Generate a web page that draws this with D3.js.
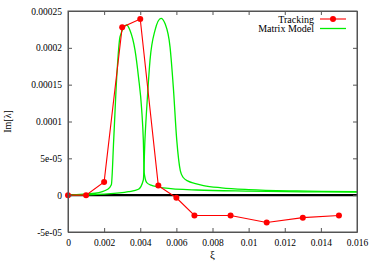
<!DOCTYPE html>
<html>
<head>
<meta charset="utf-8">
<script src="https://cdn.jsdelivr.net/npm/d3@7"></script>
<style>
  body { margin: 0; background: #fff; }
  svg { display: block; }
  text { font-family: "Liberation Serif", "DejaVu Serif", serif; fill: #000; }
</style>
</head>
<body>
<svg width="374" height="262"></svg>
<script>
const svg = d3.select("svg");

// data
const trackXi = [0, 0.001, 0.002, 0.003, 0.004, 0.005, 0.006, 0.007, 0.009, 0.011, 0.013, 0.015];
const trackIm = [0, 0, 1.8e-5, 2.28e-4, 2.39e-4, 1.3e-5, -3.5e-6, -2.75e-5, -2.75e-5, -3.7e-5, -3.05e-5, -2.75e-5];

const modelAXi = [0, 0.0015, 0.0022, 0.0024, 0.00253, 0.0027, 0.00288, 0.00325, 0.00343, 0.00371, 0.0039, 0.00408, 0.00417, 0.00422, 0.00436, 0.0046, 0.00528, 0.00712, 0.010, 0.013, 0.016];
const modelAIm = [0, 2.6e-6, 8e-6, 1.4e-5, 7.5e-5, 1.61e-4, 2.15e-4, 2.31e-4, 2.24e-4, 1.97e-4, 1.61e-4, 1.16e-4, 7.5e-5, 3.0e-5, 1.7e-5, 1.35e-5, 1.0e-5, 7e-6, 5.5e-6, 4.6e-6, 4e-6];

const modelBXi = [0, 0.002, 0.00334, 0.0039, 0.00417, 0.00426, 0.00441, 0.00454, 0.00482, 0.00515, 0.00537, 0.00565, 0.00583, 0.00602, 0.00622, 0.00638, 0.00665, 0.007, 0.0075, 0.0085, 0.01, 0.01266, 0.016];
const modelBIm = [0, 1.5e-6, 4.7e-6, 8e-6, 2.06e-5, 7.5e-5, 1.38e-4, 1.83e-4, 2.24e-4, 2.4e-4, 2.33e-4, 2.01e-4, 1.47e-4, 7.5e-5, 3.3e-5, 2.4e-5, 1.9e-5, 1.6e-5, 1.3e-5, 1.0e-5, 7.6e-6, 5.7e-6, 4.8e-6];

const xTicks = [0, 0.002, 0.004, 0.006, 0.008, 0.01, 0.012, 0.014, 0.016];
const xTickLabels = ["0", "0.002", "0.004", "0.006", "0.008", "0.01", "0.012", "0.014", "0.016"];
const yTicks = [-5e-5, 0, 5e-5, 1e-4, 1.5e-4, 2e-4, 2.5e-4];
const yTickLabels = ["-5e-05", "0", "5e-05", "0.0001", "0.00015", "0.0002", "0.00025"];

const seriesNames = ["Tracking", "Matrix Model"];

const margin = { left: 68, right: 17, top: 11, bottom: 30 };
const width = 374, height = 262;

const x = d3.scaleLinear().domain([0, 0.016]).range([margin.left, width - margin.right]);
const y = d3.scaleLinear().domain([-5e-5, 2.5e-4]).range([height - margin.bottom, margin.top]);

const plot = svg.append("g");

// zero line
plot.append("line")
    .attr("x1", x(0)).attr("x2", x(0.016))
    .attr("y1", y(0)).attr("y2", y(0))
    .attr("stroke", "#000").attr("stroke-width", 2.2);

const line = d3.line().x(d => x(d[0])).y(d => y(d[1])).curve(d3.curveMonotoneX);
const straight = d3.line().x(d => x(d[0])).y(d => y(d[1]));

const green = "#00ee00";
[[modelAXi, modelAIm], [modelBXi, modelBIm]].forEach(([xs, ys]) => {
  plot.append("path")
      .datum(xs.map((v, i) => [v, ys[i]]))
      .attr("d", line)
      .attr("fill", "none")
      .attr("stroke", green)
      .attr("stroke-width", 1.3);
});

const track = trackXi.map((v, i) => [v, trackIm[i]]);
plot.append("path")
    .datum(track)
    .attr("d", straight)
    .attr("fill", "none")
    .attr("stroke", "#ff0000")
    .attr("stroke-width", 1.1);
plot.selectAll("circle.pt")
    .data(track)
    .enter().append("circle")
    .attr("class", "pt")
    .attr("cx", d => x(d[0]))
    .attr("cy", d => y(d[1]))
    .attr("r", 3)
    .attr("fill", "#ff0000");

// axes (ticks inside, mirrored)
const frame = "#555";
const xAxisB = d3.axisBottom(x).tickValues(xTicks).tickFormat((d, i) => xTickLabels[i]).tickSizeInner(-4).tickSizeOuter(0).tickPadding(7);
const xAxisT = d3.axisTop(x).tickValues(xTicks).tickFormat("").tickSizeInner(-4).tickSizeOuter(0);
const yAxisL = d3.axisLeft(y).tickValues(yTicks).tickFormat((d, i) => yTickLabels[i]).tickSizeInner(-4).tickSizeOuter(0).tickPadding(6);
const yAxisR = d3.axisRight(y).tickValues(yTicks).tickFormat("").tickSizeInner(-4).tickSizeOuter(0);

const axes = [
  svg.append("g").attr("transform", `translate(0,${height - margin.bottom})`).call(xAxisB),
  svg.append("g").attr("transform", `translate(0,${margin.top})`).call(xAxisT),
  svg.append("g").attr("transform", `translate(${margin.left},0)`).call(yAxisL),
  svg.append("g").attr("transform", `translate(${width - margin.right},0)`).call(yAxisR)
];
axes.forEach(g => {
  g.selectAll("path").attr("stroke", frame).attr("stroke-width", 1);
  g.selectAll("line").attr("stroke", frame);
  g.selectAll("text").attr("font-family", "Liberation Serif").attr("font-size", 9.5);
});
svg.append("rect")
    .attr("x", margin.left).attr("y", margin.top)
    .attr("width", width - margin.left - margin.right)
    .attr("height", height - margin.top - margin.bottom)
    .attr("fill", "none").attr("stroke", frame).attr("stroke-width", 1);

// axis titles
svg.append("text")
    .attr("x", x(0.008)).attr("y", 258)
    .attr("text-anchor", "middle")
    .attr("font-size", 11)
    .text("ξ");
svg.append("text")
    .attr("transform", `translate(11,${y(1e-4)}) rotate(-90)`)
    .attr("text-anchor", "middle")
    .attr("font-size", 10)
    .text("Im[λ]");

// legend
const legend = svg.append("g");
seriesNames.forEach((name, i) => {
  const ly = 19 + i * 9.5;
  legend.append("text")
      .attr("x", 314).attr("y", ly + 3.5)
      .attr("text-anchor", "end")
      .attr("font-size", 10)
      .text(name);
  legend.append("line")
      .attr("x1", 320).attr("x2", 346)
      .attr("y1", ly).attr("y2", ly)
      .attr("stroke", i === 0 ? "#ff0000" : green)
      .attr("stroke-width", i === 0 ? 1.1 : 1.3);
  if (i === 0) {
    legend.append("circle").attr("cx", 333).attr("cy", ly).attr("r", 3).attr("fill", "#ff0000");
  }
});
</script>
</body>
</html>
